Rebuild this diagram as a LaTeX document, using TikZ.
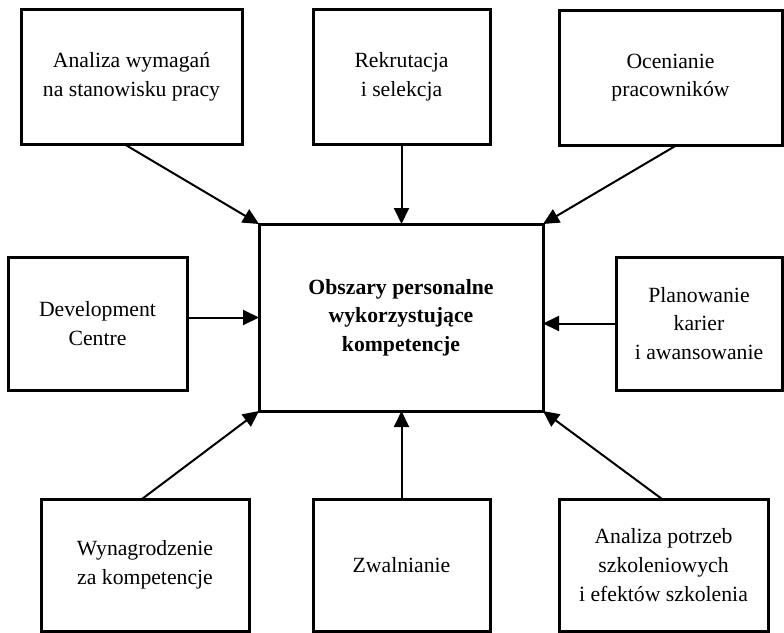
\documentclass[tikz,border=0pt]{standalone}
\usepackage{fontspec}
\setmainfont{Liberation Serif}
\usetikzlibrary{arrows.meta}
\begin{document}
\begin{tikzpicture}[x=1pt,y=-1pt,
  box/.style={draw, line width=3pt, inner sep=0pt, outer sep=0pt,
    align=center, font=\fontsize{21.7}{28.7}\selectfont},
  link/.style={line width=2pt, -{Triangle[length=16pt,width=15pt]}}]
\useasboundingbox (0,0) rectangle (784,632);

% outer boxes
\node[box, minimum width=221pt, minimum height=135pt] (tl) at (131.5,76.5)
  {Analiza wymagań\\na stanowisku pracy};
\node[box, minimum width=177pt, minimum height=135pt] (tm) at (401.5,76.5)
  {Rekrutacja\\i selekcja};
\node[box, minimum width=223pt, minimum height=135pt] (tr) at (670.5,77.5)
  {Ocenianie\\pracowników};
\node[box, minimum width=179pt, minimum height=133pt] (ml) at (97.5,323.5)
  {Development\\Centre};
\node[box, minimum width=166pt, minimum height=133pt] (mr) at (699,323.5)
  {Planowanie\\karier\\i awansowanie};
\node[box, minimum width=208pt, minimum height=132pt] (bl) at (145,565)
  {Wynagrodzenie\\za kompetencje};
\node[box, minimum width=177pt, minimum height=132pt] (bm) at (401.5,565)
  {Zwalnianie};
\node[box, minimum width=209pt, minimum height=132pt] (br) at (663.5,565)
  {Analiza potrzeb\\szkoleniowych\\i efektów szkolenia};

% central box
\node[box, minimum width=284pt, minimum height=187pt] (c) at (401,317.5)
  {\bfseries Obszary personalne\\\bfseries wykorzystujące\\\bfseries kompetencje};

% connectors
\draw[link] ([xshift=-7.5pt]tl.south) -- (c.north west);
\draw[link] (tm.south) -- (tm.south |- c.north);
\draw[link] ([xshift=6.5pt]tr.south) -- (c.north east);
\draw[link] (ml.east |- c.west) -- (c.west);
\draw[link] (mr.west) -- (mr.west -| c.east);
\draw[link] ([xshift=-3pt]bl.north) -- (c.south west);
\draw[link] (bm.north) -- (bm.north |- c.south);
\draw[link] ([xshift=-1.5pt]br.north) -- (c.south east);
\end{tikzpicture}
\end{document}
